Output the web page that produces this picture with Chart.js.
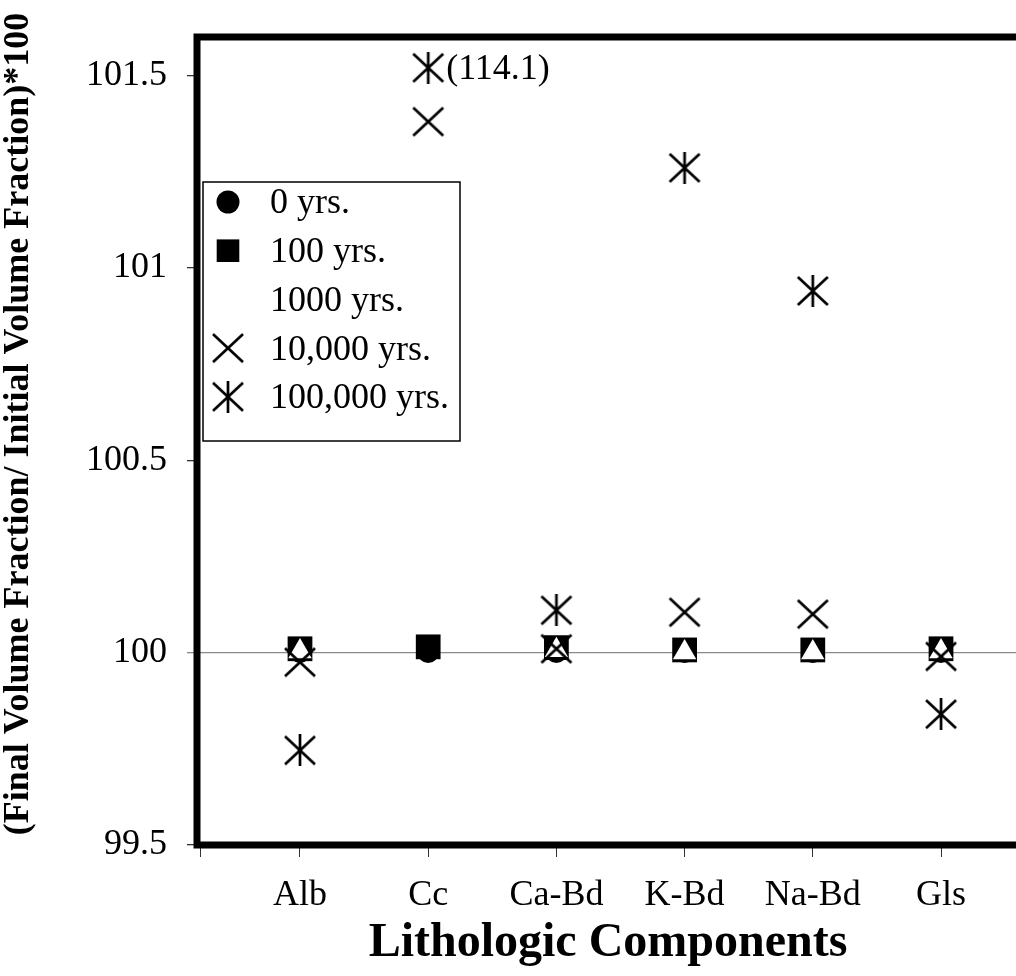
<!DOCTYPE html>
<html>
<head>
<meta charset="utf-8">
<title>Lithologic Components</title>
<script src="https://cdn.jsdelivr.net/npm/chart.js@4.4.0/dist/chart.umd.min.js"></script>
<style>
  body { margin: 0; background: #fff; overflow: hidden; }
  #wrap { width: 1016px; height: 976px; position: relative; }
</style>
</head>
<body>
<div id="wrap"><canvas id="volChart"></canvas></div>
<script>
// Data ---------------------------------------------------------------
const categories = ['Alb', 'Cc', 'Ca-Bd', 'K-Bd', 'Na-Bd', 'Gls'];
const seriesNames = ['0 yrs.', '100 yrs.', '1000 yrs.', '10,000 yrs.', '100,000 yrs.'];
const yr0 = [100.0, 100.0, 100.0, 100.0, 100.0, 100.0];
const yr100 = [100.01, 100.015, 100.013, 100.007, 100.007, 100.01];
const yr1000 = [100.003, null, 100.006, 100.0, 100.0, 100.003];
const yr10000 = [99.975, 101.38, 100.01, 100.105, 100.1, 99.99];
// Cc at 100,000 yrs is really 114.1 -> drawn pinned near the top with a note
const yr100000 = [99.746, 101.52, 100.11, 101.26, 100.94, 99.84];
const offScaleNotes = ['', '(114.1)', '', '', '', ''];
const yTicks = [99.5, 100, 100.5, 101, 101.5];
const yTitle = '(Final Volume Fraction/ Initial Volume Fraction)*100';

Chart.defaults.font.family = "'Liberation Serif', 'Times New Roman', serif";
Chart.defaults.color = '#000';

// X and asterisk markers (asterisk = X with a vertical stem)
function makeMarker(withStem) {
  const c = document.createElement('canvas');
  c.width = 34;
  c.height = 32;
  const g = c.getContext('2d');
  g.strokeStyle = '#000';
  g.lineWidth = 2.7;
  g.beginPath();
  g.moveTo(2, 2); g.lineTo(32, 30);
  g.moveTo(32, 2); g.lineTo(2, 30);
  if (withStem) { g.moveTo(17, 0); g.lineTo(17, 32); }
  g.stroke();
  return c;
}
const crossImg = makeMarker(false);
const starImg = makeMarker(true);

function toPoints(arr) {
  return arr.map((v, i) => ({ x: i + 1, y: v }));
}

function markerSet(label, data, style, radius, fill, order) {
  return {
    label: label,
    data: toPoints(data),
    showLine: false,
    pointStyle: style,
    pointRadius: radius,
    pointHoverRadius: radius,
    backgroundColor: fill,
    borderColor: fill,
    pointBorderWidth: 0,
    order: order
  };
}

// Thick frame on left / top / bottom (right side is cut off in the original)
// + the rotated y title
const frame = {
  id: 'frame',
  beforeDatasetsDraw(chart) {
    const { ctx, chartArea: ca } = chart;
    ctx.save();
    ctx.strokeStyle = '#000';
    ctx.lineWidth = 7;
    ctx.beginPath();
    ctx.moveTo(chart.width + 5, ca.top);
    ctx.lineTo(ca.left - 3, ca.top);
    ctx.lineTo(ca.left - 3, ca.bottom);
    ctx.lineTo(chart.width + 5, ca.bottom);
    ctx.stroke();

    ctx.translate(19, 424);
    ctx.rotate(-Math.PI / 2);
    ctx.font = "bold 36px 'Liberation Serif'";
    ctx.fillStyle = '#000';
    ctx.textAlign = 'center';
    ctx.textBaseline = 'middle';
    ctx.fillText(yTitle, 0, 0);
    ctx.restore();
  }
};

// Legend box inside the plot + note for the off-scale point
const boxLegend = {
  id: 'boxLegend',
  afterDatasetsDraw(chart) {
    const { ctx, chartArea: ca } = chart;
    const x0 = ca.left + 3, y0 = 182, w = 257, h = 259;
    ctx.save();
    ctx.fillStyle = '#fff';
    ctx.fillRect(x0, y0, w, h);
    ctx.strokeStyle = '#000';
    ctx.lineWidth = 1.5;
    ctx.strokeRect(x0, y0, w, h);
    ctx.font = "36px 'Liberation Serif'";
    ctx.textBaseline = 'middle';
    ctx.textAlign = 'left';
    chart.data.datasets.forEach((ds, i) => {
      const y = y0 + 20 + i * 48.7;
      ctx.fillStyle = ds.backgroundColor;
      ctx.strokeStyle = ds.borderColor;
      let r = ds.pointRadius;
      if (ds.pointStyle === 'rect') r = 16;
      if (ds.pointStyle === 'circle') r = 11.5;
      Chart.helpers.drawPoint(ctx, {
        pointStyle: ds.pointStyle,
        radius: r,
        rotation: 0,
        borderWidth: 0
      }, x0 + 25, y);
      ctx.fillStyle = '#000';
      ctx.fillText(ds.label, x0 + 67, y + 2);
    });

    // "(114.1)" next to the pinned point
    const meta = chart.getDatasetMeta(4);
    offScaleNotes.forEach((note, i) => {
      if (!note) return;
      const pt = meta.data[i];
      ctx.fillText(note, pt.x + 18, pt.y + 2);
    });
    ctx.restore();
  }
};

const volChart = new Chart(document.getElementById('volChart'), {
  type: 'scatter',
  data: {
    datasets: [
      markerSet(seriesNames[0], yr0, 'circle', 10.5, '#000', 5),
      markerSet(seriesNames[1], yr100, 'rect', 17.5, '#000', 4),
      markerSet(seriesNames[2], yr1000, 'triangle', 13.5, '#fff', 3),
      markerSet(seriesNames[3], yr10000, crossImg, 15, '#000', 2),
      markerSet(seriesNames[4], yr100000, starImg, 15, '#000', 1)
    ]
  },
  options: {
    responsive: true,
    maintainAspectRatio: false,
    animation: false,
    events: [],
    // no extra room for the big markers, the plot runs to the right edge
    layout: { autoPadding: false, padding: { top: 37, left: 0, right: 0, bottom: 0 } },
    plugins: {
      legend: { display: false },
      tooltip: { enabled: false }
    },
    scales: {
      x: {
        type: 'linear',
        min: 0.22,
        max: 6.585,
        afterBuildTicks: s => { s.ticks = [s.min, 1, 2, 3, 4, 5, 6].map(v => ({ value: v })); },
        afterFit: s => { s.height = 131; s.paddingLeft = 0; s.paddingRight = 0; },
        ticks: {
          font: { size: 36 },
          color: '#000',
          padding: 17,
          maxRotation: 0,
          autoSkip: false,
          callback: v => categories[v - 1] || ''
        },
        grid: { color: 'rgba(0,0,0,0)', tickColor: '#333', tickLength: 12 },
        border: { display: false },
        title: {
          display: true,
          text: 'Lithologic Components',
          font: { size: 48, weight: 'bold' },
          color: '#000',
          padding: { top: 0, bottom: 4 }
        }
      },
      y: {
        min: 99.5,
        max: 101.6,
        afterBuildTicks: s => { s.ticks = yTicks.map(v => ({ value: v })); },
        afterFit: s => { s.width = 200; s.paddingTop = 0; s.paddingBottom = 0; },
        ticks: {
          font: { size: 36 },
          color: '#000',
          padding: 20,
          callback: v => String(v)
        },
        grid: {
          color: c => (c.tick && c.tick.value === 100 ? '#8a8a8a' : 'rgba(0,0,0,0)'),
          tickColor: c => (c.tick && c.tick.value === 100 ? '#8a8a8a' : '#333'),
          lineWidth: 1.3,
          tickLength: 13
        },
        border: { display: false }
      }
    }
  },
  plugins: [frame, boxLegend]
});
</script>
</body>
</html>
